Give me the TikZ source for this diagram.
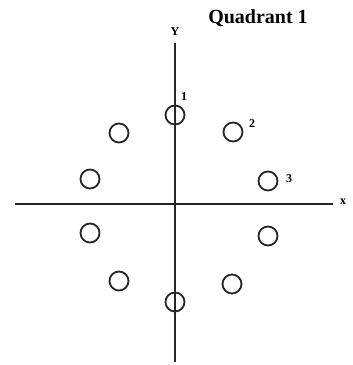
\documentclass[tikz,border=0pt]{standalone}
\usepackage{fontspec}
\setmainfont{Liberation Serif}
\begin{document}
\begin{tikzpicture}[x=1pt,y=-1pt,
  axis/.style={line width=1.8pt,draw=black!85},
  slot/.style={circle,draw=black!85,line width=1.8pt,minimum size=19pt,inner sep=0pt},
  lbl/.style={font=\bfseries\fontsize{12}{12}\selectfont,inner sep=0pt},
  ttl/.style={font=\bfseries\fontsize{20}{20}\selectfont,inner sep=0pt}]
\useasboundingbox (0,0) rectangle (353,365);
\coordinate (yt) at (175,43);
\coordinate (yb) at (175,362);
\coordinate (xl) at (15,204);
\coordinate (xr) at (333,204);
\draw[axis] (yt) -- (yb);
\draw[axis] (xl) -- (xr);
\node[slot] (c1) at (175,115) {};
\node[slot] (c2) at (233,132) {};
\node[slot] (c3) at (268,181) {};
\node[slot] (c4) at (268,236) {};
\node[slot] (c5) at (232,284) {};
\node[slot] (c6) at (175,302) {};
\node[slot] (c7) at (119,281) {};
\node[slot] (c8) at (90,233) {};
\node[slot] (c9) at (90,179) {};
\node[slot] (c10) at (119,133) {};
\node[ttl] (title) at (258,18) {Quadrant 1};
\node[lbl] (ylab) at (175,32) {Y};
\node[lbl] (xlab) at (343,202) {x};
\node[lbl] (l1) at (184,97) {1};
\node[lbl] (l2) at (252,124) {2};
\node[lbl] (l3) at (289,179) {3};
\end{tikzpicture}
\end{document}
